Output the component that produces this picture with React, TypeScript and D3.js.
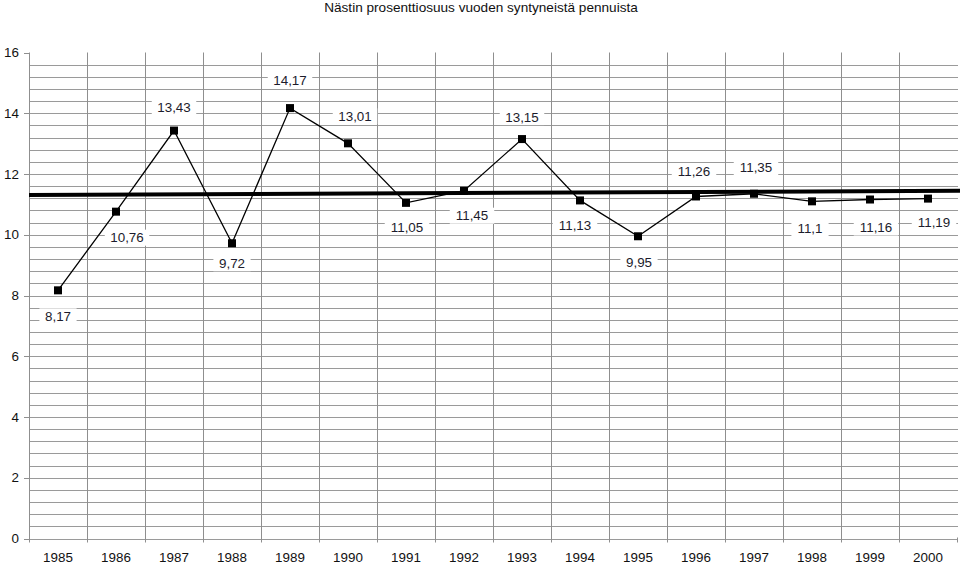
import React from "react";
import * as d3 from "d3";

const title = "Nästin prosenttiosuus vuoden syntyneistä pennuista";
const years = ["1985","1986","1987","1988","1989","1990","1991","1992","1993","1994","1995","1996","1997","1998","1999","2000"];
const values = [8.17, 10.76, 13.43, 9.72, 14.17, 13.01, 11.05, 11.45, 13.15, 11.13, 9.95, 11.26, 11.35, 11.1, 11.16, 11.19];
const yTicks = [0, 2, 4, 6, 8, 10, 12, 14, 16];

// label placement offsets (layout, px) relative to each point
const labelDx = [0, 11, 0, 0, 0, 7, 1, 8, 0, -5, 1, -2, 2, -2, 6, 6];
const labelDy = [26, 26, -23, 20, -28, -27, 24, 25, -22, 25, 26, -25, -26, 27, 28, 24];

const W = 960, H = 566;
const left = 29, right = 957, top = 52.5, bottom = 538.5;

export default function App() {
  const x = d3.scaleBand<string>().domain(years).range([left, right]).padding(0);
  const y = d3.scaleLinear().domain([0, 16]).range([bottom, top]);
  const cx = (i: number) => (x(years[i]) as number) + x.bandwidth() / 2;

  const minor = d3.range(0, 16, 0.4).map((v) => +v.toFixed(1));
  const line = d3.line<number>().x((_, i) => cx(i)).y((d) => y(d));

  // linear regression trend line
  const n = values.length;
  const mx = (n - 1) / 2;
  const my = d3.mean(values) as number;
  let sxy = 0, sxx = 0;
  values.forEach((v, i) => { sxy += (i - mx) * (v - my); sxx += (i - mx) * (i - mx); });
  const slope = sxy / sxx;
  const trendAt = (t: number) => my + slope * (t - mx);
  const tLeft = -0.5;

  const fmt = (v: number) => String(v).replace(".", ",");
  const font = "'Liberation Sans', Arial, sans-serif";
  const fs = 13.4;

  return (
    <svg width={W} height={H} style={{ position: "absolute", left: 0, top: 0, background: "#fff" }} fontFamily={font}>
      <rect x={0} y={0} width={W} height={H} fill="#fff" />
      <text x={481} y={12} textAnchor="middle" fontSize={13.6} fill="#111">{title}</text>
      {/* horizontal grid */}
      {minor.map((v) => (
        <line key={"h" + v} x1={left} x2={right + 1} y1={Math.round(y(v)) + 0.5} y2={Math.round(y(v)) + 0.5} stroke="#9a9a9a" strokeWidth={1} />
      ))}
      {/* vertical grid */}
      {years.map((yr) => (
        <line key={"v" + yr} x1={Math.round(x(yr) as number) + 0.5} x2={Math.round(x(yr) as number) + 0.5} y1={top} y2={bottom + 4} stroke="#8f8f8f" strokeWidth={1} />
      ))}
      <line x1={right + 0.5} x2={right + 0.5} y1={bottom - 1} y2={bottom + 4} stroke="#8f8f8f" />
      {/* y ticks */}
      {yTicks.map((t) => (
        <g key={"yt" + t}>
          <line x1={left - 5} x2={left} y1={Math.round(y(t)) + 0.5} y2={Math.round(y(t)) + 0.5} stroke="#8f8f8f" />
          <text x={left - 10} y={y(t)} dy="0.35em" textAnchor="end" fontSize={fs} fill="#111">{t}</text>
        </g>
      ))}
      {/* x labels */}
      {years.map((yr, i) => (
        <text key={"xl" + yr} x={cx(i)} y={557} dy="0.35em" textAnchor="middle" fontSize={fs} fill="#111">{yr}</text>
      ))}
      {/* data labels with white boxes */}
      {values.map((v, i) => {
        const lx = cx(i) + labelDx[i];
        const ly = y(v) + labelDy[i];
        const w = fmt(v).length * 7.3 + 8;
        return (
          <g key={"lb" + i}>
            <rect x={lx - w / 2} y={ly - 8} width={w} height={16} fill="#fff" />
            <text x={lx} y={ly} dy="0.35em" textAnchor="middle" fontSize={fs} fill="#1c1c2c">{fmt(v)}</text>
          </g>
        );
      })}
      {/* series line */}
      <path d={line(values) as string} fill="none" stroke="#000" strokeWidth={1.3} />
      {/* trend */}
      <line x1={left} x2={W} y1={y(trendAt(tLeft))} y2={y(trendAt(tLeft + (W - left) / x.bandwidth()))} stroke="#000" strokeWidth={4} />
      {/* markers */}
      {values.map((v, i) => (
        <rect key={"m" + i} x={cx(i) - 4} y={y(v) - 4} width={8} height={8} fill="#000" />
      ))}
    </svg>
  );
}
